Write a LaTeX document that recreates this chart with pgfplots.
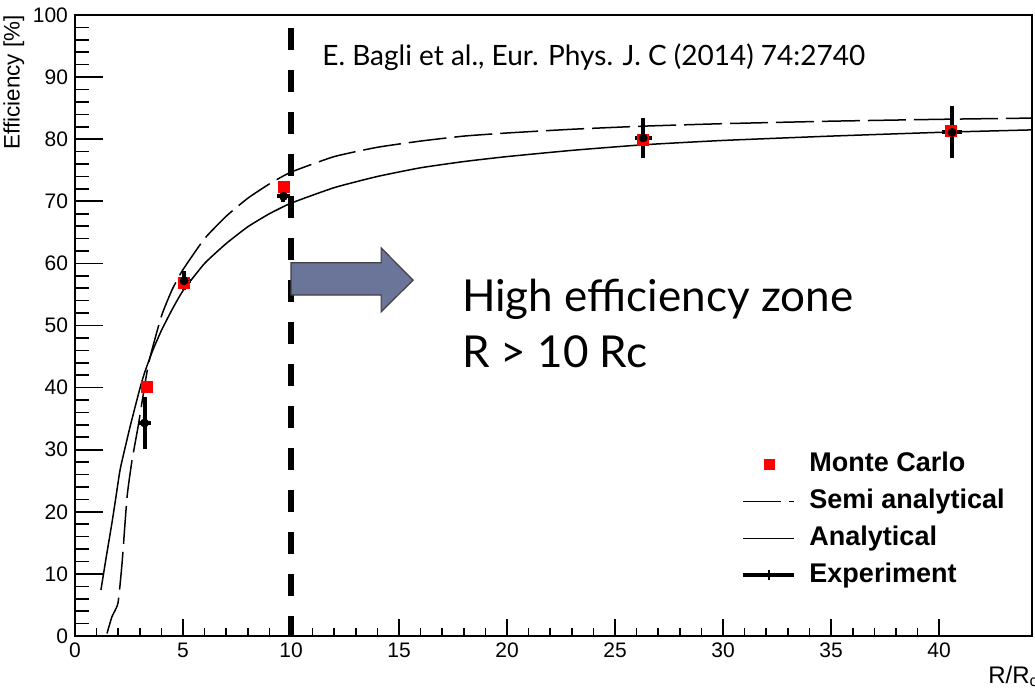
\documentclass[border=0pt]{standalone}
\usepackage{fontspec}
\setmainfont{Liberation Sans}
\newfontfamily\gill{Lato}
\usepackage{pgfplots}
\pgfplotsset{compat=1.18}
\definecolor{arrowcol}{RGB}{106,117,153}
\pgfplotsset{
  mclegend/.style={legend image code/.code={\path[draw=none] (0pt,0pt) -- (25.5pt,0pt); \fill[red, draw=none] (10.25pt,-2.75pt) rectangle (15.75pt,2.75pt);}},
  semilegend/.style={legend image code/.code={\draw[black, line width=0.75pt, dash pattern=on 19pt off 4pt] (0pt,0pt) -- (25.5pt,0pt);}},
  analegend/.style={legend image code/.code={\draw[black, line width=0.75pt] (0pt,0pt) -- (25.5pt,0pt);}},
  explegend/.style={legend image code/.code={\draw[black, line width=2pt] (0pt,0pt) -- (25.5pt,0pt); \draw[black, line width=0.8pt] (12.75pt,-2.5pt) -- (12.75pt,2.5pt);}},
  frame/.style={at={(0pt,0pt)}, anchor=south west,
    scale only axis, width=478.5pt, height=310.5pt,
    xmin=0, xmax=44.3, ymin=0, ymax=100,
    tick align=inside, xtick pos=bottom, ytick pos=left,
    tick style={black, line width=0.8pt},
    ticklabel style={font=\fontsize{10.5}{12}\selectfont},
    /pgf/number format/assume math mode=true},
}
\begin{document}
\begin{tikzpicture}
\path[use as bounding box] (-37.5pt,-25.5pt) rectangle (480pt,318pt);
% x ticks (shorter)
\begin{axis}[frame,
  xtick={0,5,...,40}, minor x tick num=4, ytick=\empty,
  major tick length=8.5pt, minor tick length=4pt,
  axis line style={draw=none}]
\end{axis}
\begin{axis}[frame,
  xtick=\empty,
  ytick={0,10,...,100}, minor y tick num=4,
  major tick length=14pt, minor tick length=7pt,
  axis line style={line width=1pt},
  legend cell align=left,
  legend style={draw=none, fill=none, at={(rel axis cs:0.696,0.298)}, anchor=north west,
    font=\bfseries\fontsize{13.5}{15}\selectfont, inner sep=0pt, row sep=5.5pt, column sep=6.5pt,
    nodes={inner sep=0pt, text height=10pt, text depth=3pt}},
]
% Monte Carlo
\addplot[forget plot, only marks, mark=square*, mark size=2.75pt, color=red]
  coordinates {(3.33,40.1) (5.05,56.9) (9.65,72.3) (26.3,79.9) (40.56,81.3)};
% Semi analytical
\addplot[forget plot, black, line width=0.75pt, dash pattern=on 19pt off 4pt, smooth, tension=0.3]
  coordinates {(1.48,0.4) (1.71,3.1) (1.99,5.3) (2.18,11.8) (2.41,22.4) (2.64,28.3) (2.92,33.7)
   (3.4,43.8) (4.0,51.5) (4.5,55.8) (5.0,59.0) (6.0,64.0) (7.0,67.6) (8.0,70.5) (9.0,72.8)
   (10.0,74.7) (12,77.2) (14,78.7) (16,79.7) (18,80.5) (20,81.0) (23,81.6) (26.3,82.1)
   (30,82.5) (35,82.9) (40,83.2) (44.3,83.4)};
% Analytical
\addplot[forget plot, black, line width=0.75pt, smooth, tension=0.3]
  coordinates {(1.2,7.4) (1.45,12.8) (1.71,18.2) (1.9,22.5) (2.1,27.0) (2.55,33.7) (3.0,39.8)
   (3.24,42.6) (3.6,46.0) (4.0,49.2) (4.5,52.6) (5.0,55.6) (6.0,60.0) (7.0,63.2) (8.0,65.9)
   (9.0,68.0) (10.0,69.7) (12,72.2) (14,74.0) (16,75.4) (18,76.4) (20,77.2) (23,78.2)
   (26.3,79.1) (30,79.8) (35,80.5) (40,81.1) (44.3,81.5)};
% vertical dashed line
\addplot[forget plot, black, line width=3pt, dash pattern=on 11pt off 10pt]
  coordinates {(10,97.9) (10,0)};
% Experiment
\addplot[forget plot, only marks, mark=none, black,
  error bars/.cd, x dir=both, x explicit, y dir=both, y explicit,
  error bar style={line width=2pt}, error mark=none]
  coordinates {(3.22,34.3) +- (0.3,4.2) (5.05,57.2) +- (0.3,1.5) (9.65,70.8) +- (0.3,0.9)
   (26.3,80.2) +- (0.4,3.2) (40.6,81.1) +- (0.45,4.2)};
\addlegendimage{mclegend}
\addlegendentry{Monte Carlo}
\addlegendimage{semilegend}
\addlegendentry{Semi analytical}
\addlegendimage{analegend}
\addlegendentry{Analytical}
\addlegendimage{explegend}
\addlegendentry{Experiment}
% arrow
\draw[fill=arrowcol, draw=black!75, line width=0.6pt]
  (axis cs:10,60.1) -- (axis cs:14.17,60.1) -- (axis cs:14.17,62.5) -- (axis cs:15.65,57.3)
  -- (axis cs:14.17,52.2) -- (axis cs:14.17,54.9) -- (axis cs:10,54.9) -- cycle;
\node[anchor=base west, inner sep=0pt, font=\gill\fontsize{22}{26}\selectfont] at (axis cs:17.9,52.3) {High efficiency zone};
\node[anchor=base west, inner sep=0pt, font=\gill\fontsize{22}{26}\selectfont] at (axis cs:17.9,43.3) {R > 10 Rc};
\node[anchor=base west, inner sep=0pt, font=\gill\fontsize{14}{16}\selectfont] at (axis cs:11.43,91.9) {E. Bagli et al., Eur. Phys. J. C (2014) 74:2740};
\end{axis}
\node[rotate=90, anchor=north east, inner sep=0pt, font=\fontsize{11.2}{13}\selectfont] at (-36pt,310.5pt) {Efficiency [\%]};
\node[anchor=base west, inner sep=0pt, font=\fontsize{12}{14}\selectfont] at (456.5pt,-23.5pt) {R/R$_{\mathrm{c}}$};
\end{tikzpicture}
\end{document}
